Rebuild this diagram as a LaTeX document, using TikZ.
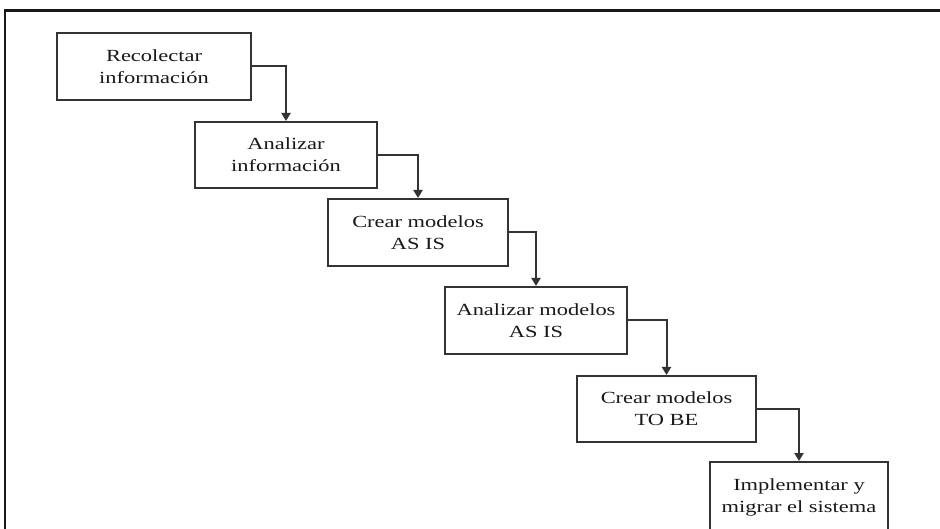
\documentclass[tikz,border=0pt]{standalone}
\usepackage{fontspec}
\setmainfont[FakeStretch=1.32]{Liberation Serif}
\usetikzlibrary{arrows.meta}
\begin{document}
\begin{tikzpicture}[x=1pt,y=-1pt,
  stepbox/.style={draw=black!80, line width=2pt, fill=white, align=center,
    inner sep=0pt, text=black!90,
    font=\fontsize{17}{22}\selectfont},
  flow/.style={draw=black!80, line width=2pt,
    -{Triangle[width=9pt,length=8pt]}}]
  \useasboundingbox (0,0) rectangle (940,529);
  \clip (0,0) rectangle (940,529);
  \fill[white] (0,0) rectangle (940,529);
  % page frame (left and top edges)
  \draw[line width=2.6pt, black!90] (5,545) -- (5,10.5) -- (950,10.5);

  % process steps, one below and to the right of the other
  \node[stepbox, minimum width=194pt, minimum height=67pt] (s1) at (154,66.5)
    {Recolectar\\información};
  \node[stepbox, minimum width=182pt, minimum height=66pt] (s2) at (286,155)
    {Analizar\\información};
  \node[stepbox, minimum width=180pt, minimum height=67pt] (s3) at (418,232.5)
    {Crear modelos\\AS IS};
  \node[stepbox, minimum width=182pt, minimum height=67pt] (s4) at (536,320.5)
    {Analizar modelos\\AS IS};
  \node[stepbox, minimum width=179pt, minimum height=66pt] (s5) at (666.5,409)
    {Crear modelos\\TO BE};
  \node[stepbox, minimum width=178pt, minimum height=70pt] (s6) at (799,497)
    {Implementar y\\migrar el sistema};

  % connectors
  \draw[flow] (s1.east) -| (s2.north);
  \draw[flow] (s2.east) -| (s3.north);
  \draw[flow] (s3.east) -| (s4.north);
  \draw[flow] (s4.east) -| (s5.north);
  \draw[flow] (s5.east) -| (s6.north);
\end{tikzpicture}
\end{document}
